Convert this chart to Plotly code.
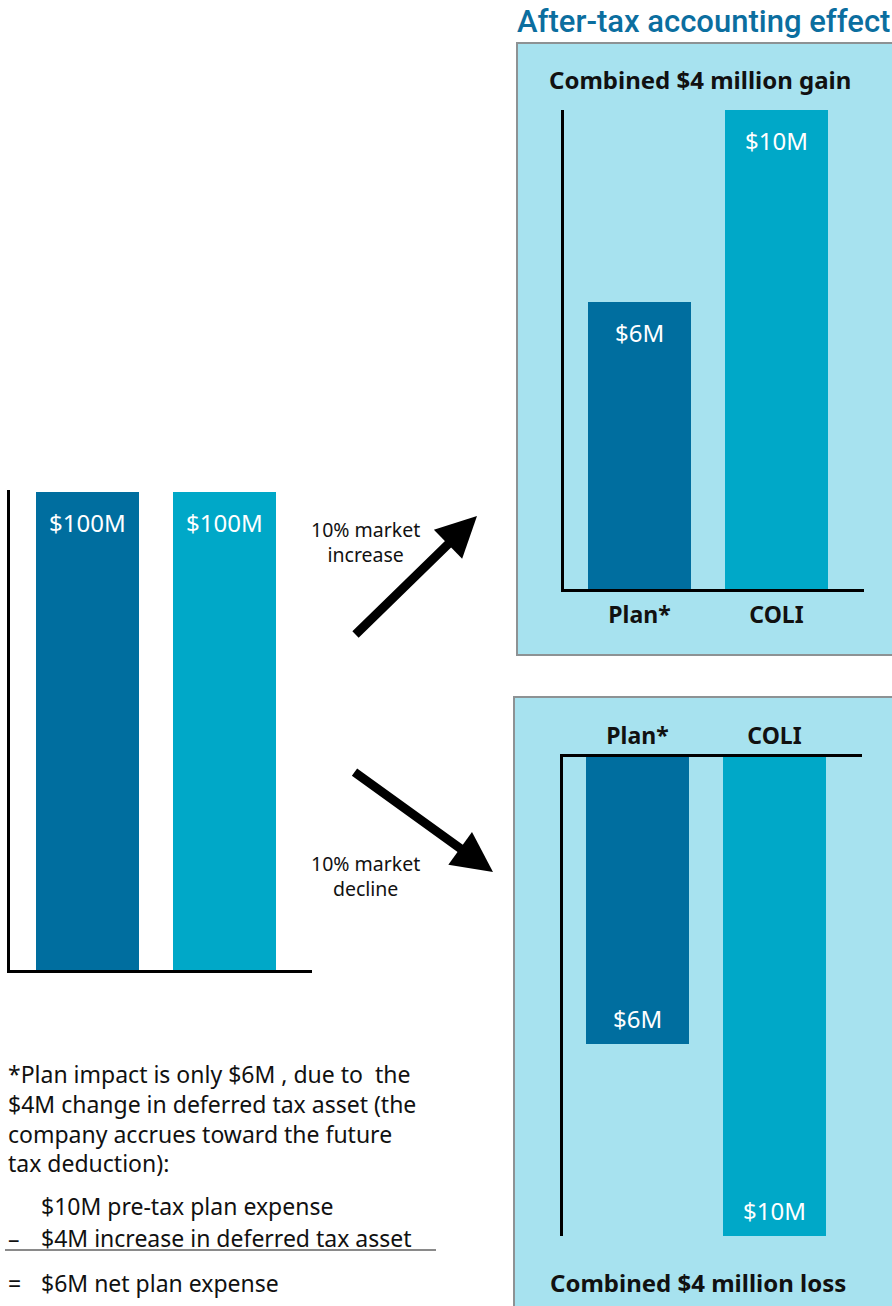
import plotly.graph_objects as go

# ---------------- data ----------------
categories = ["Plan*", "COLI"]
before_values = [100, 100]
before_labels = ["$100M", "$100M"]
gain_values = [6, 10]
gain_labels = ["$6M", "$10M"]
loss_values = [-6, -10]
loss_labels = ["$6M", "$10M"]

W, H = 892, 1306
DARK = "#006E9F"
LIGHT = "#00A8C8"
PANEL = "#A7E2EF"
FONT = "Noto Sans"


def fx(px):
    return px / W


def fy(py):
    return 1 - py / H


fig = go.Figure()

# bars
for xa, ya, vals in [("x", "y", before_values), ("x2", "y2", gain_values), ("x3", "y3", loss_values)]:
    fig.add_trace(go.Bar(
        x=categories, y=vals, xaxis=xa, yaxis=ya,
        marker=dict(color=[DARK, LIGHT], line=dict(width=0)),
        width=103 / 137, showlegend=False, hoverinfo="skip",
    ))


def xrange_for(left, right, c0, c1):
    step = c1 - c0
    return [-(c0 - left) / step, 1 + (right - c1) / step]


axis_common = dict(showgrid=False, zeroline=False, showline=True, linecolor="black",
                   linewidth=3, ticks="", fixedrange=True)

fig.update_layout(
    width=W, height=H, autosize=False,
    margin=dict(l=0, r=0, t=0, b=0),
    paper_bgcolor="white", plot_bgcolor="rgba(0,0,0,0)",
    bargap=0,
    xaxis=dict(domain=[fx(10), fx(312)], anchor="y", type="category",
               range=xrange_for(10, 312, 87.5, 224.5), showticklabels=False, **axis_common),
    yaxis=dict(domain=[fy(970), fy(490)], anchor="x", range=[0, 100.4],
               showticklabels=False, **axis_common),
    xaxis2=dict(domain=[fx(564), fx(864)], anchor="y2", type="category",
                range=xrange_for(564, 864, 639.5, 776.5), showticklabels=True,
                tickfont=dict(family=FONT, size=23, color="#111", weight="bold"),
                ticklabelstandoff=3, **axis_common),
    yaxis2=dict(domain=[fy(589), fy(110)], anchor="x2", range=[0, 10.0],
                showticklabels=False, **axis_common),
    xaxis3=dict(domain=[fx(563), fx(862)], anchor="y3", type="category", side="top",
                range=xrange_for(563, 862, 637.5, 774.5), showticklabels=True,
                tickfont=dict(family=FONT, size=23, color="#111", weight="bold"),
                ticklabelstandoff=1, **axis_common),
    yaxis3=dict(domain=[fy(1236), fy(757)], anchor="x3", range=[-10.0, 0],
                showticklabels=False, **axis_common),
)

# panels
fig.add_shape(type="rect", xref="paper", yref="paper", x0=fx(517), x1=fx(905),
              y0=fy(655), y1=fy(43), fillcolor=PANEL, line=dict(color="#8D9294", width=2), layer="below")
fig.add_shape(type="rect", xref="paper", yref="paper", x0=fx(514), x1=fx(905),
              y0=fy(1330), y1=fy(697), fillcolor=PANEL, line=dict(color="#8D9294", width=2), layer="below")

# separator line in footnote
fig.add_shape(type="line", xref="paper", yref="paper", x0=fx(5), x1=fx(436),
              y0=fy(1250), y1=fy(1250), line=dict(color="#8A8A8A", width=2))

ann = []
# bar value labels
for xr, yr, vals, labels, shift in [("x", "y", before_values, before_labels, -31),
                                    ("x2", "y2", gain_values, gain_labels, -31),
                                    ("x3", "y3", loss_values, loss_labels, 26)]:
    for c, v, t in zip(categories, vals, labels):
        ann.append(dict(x=c, y=v, xref=xr, yref=yr, text=t, showarrow=False, yshift=shift,
                        yanchor="middle", font=dict(family=FONT, size=24, color="white")))

# heading and panel titles
ann.append(dict(x=fx(515), y=fy(22), xref="paper", yref="paper", xanchor="left", yanchor="middle",
                text="After-tax accounting effect", showarrow=False,
                font=dict(family="Roboto", size=31, color="#0B6E9F", weight=500)))
ann.append(dict(x=fx(700), y=fy(80), xref="paper", yref="paper", xanchor="center", yanchor="middle",
                text="Combined $4 million gain", showarrow=False,
                font=dict(family=FONT, size=24, color="#111", weight="bold")))
ann.append(dict(x=fx(698), y=fy(1282), xref="paper", yref="paper", xanchor="center", yanchor="middle",
                text="Combined $4 million loss", showarrow=False,
                font=dict(family=FONT, size=24, color="#111", weight="bold")))

# arrows
ann.append(dict(x=fx(477), y=fy(516), xref="paper", yref="paper", text="", showarrow=True,
                ax=-123, ay=120, arrowhead=2, arrowwidth=9, arrowsize=0.9, arrowcolor="black"))
ann.append(dict(x=fx(493), y=fy(872), xref="paper", yref="paper", text="", showarrow=True,
                ax=-140, ay=-101, arrowhead=2, arrowwidth=9, arrowsize=0.9, arrowcolor="black"))
ann.append(dict(x=fx(365), y=fy(542), xref="paper", yref="paper", xanchor="center", yanchor="middle",
                text="10% market<br>increase", showarrow=False,
                font=dict(family=FONT, size=19.5, color="#111")))
ann.append(dict(x=fx(365), y=fy(876), xref="paper", yref="paper", xanchor="center", yanchor="middle",
                text="10% market<br>decline", showarrow=False,
                font=dict(family=FONT, size=19.5, color="#111")))

# footnote
foot_lines = [
    "*Plan impact is only $6M , due to  the",
    "$4M change in deferred tax asset (the",
    "company accrues toward the future",
    "tax deduction):",
]
foot_y = [1074, 1104, 1134, 1163]
for t, yy in zip(foot_lines, foot_y):
    ann.append(dict(x=fx(6), y=fy(yy), xref="paper", yref="paper", xanchor="left", yanchor="middle",
                    text=t, showarrow=False, font=dict(family=FONT, size=23, color="#111")))

calc_ops = ["", "–", "="]
calc_lines = ["$10M pre-tax plan expense", "$4M increase in deferred tax asset", "$6M net plan expense"]
calc_y = [1206, 1238, 1283]
for op, t, yy in zip(calc_ops, calc_lines, calc_y):
    if op:
        ann.append(dict(x=fx(6), y=fy(yy), xref="paper", yref="paper", xanchor="left", yanchor="middle",
                        text=op, showarrow=False, font=dict(family=FONT, size=23, color="#111")))
    ann.append(dict(x=fx(39), y=fy(yy), xref="paper", yref="paper", xanchor="left", yanchor="middle",
                    text=t, showarrow=False, font=dict(family=FONT, size=23, color="#111")))

fig.update_layout(annotations=ann)

fig.write_html("out.html", config={"displayModeBar": False},
               post_script="document.body.style.margin='0';document.body.style.overflow='hidden';")
